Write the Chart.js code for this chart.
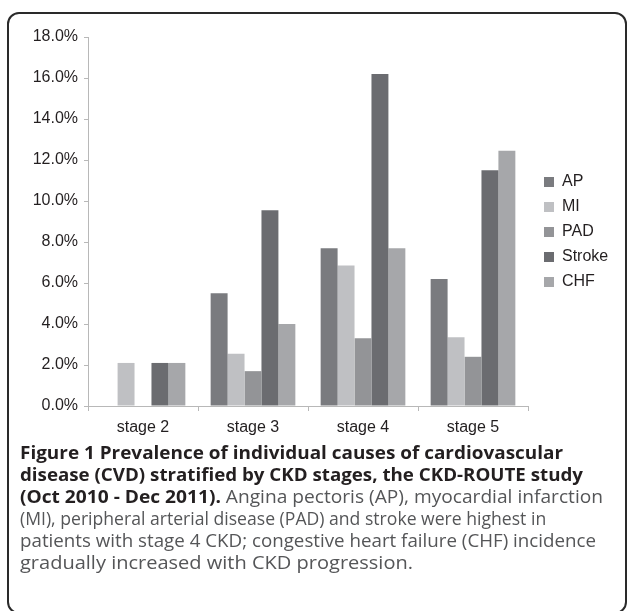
<!DOCTYPE html>
<html>
<head>
<meta charset="utf-8">
<script src="https://cdn.jsdelivr.net/npm/chart.js@4.4.1/dist/chart.umd.min.js"></script>
<style>
  html, body { margin: 0; padding: 0; background: #fff; }
  body { width: 627px; height: 611px; position: relative; overflow: hidden; }
  #frame {
    position: absolute; left: 7px; top: 12px; width: 620px; height: 602px;
    border: 2px solid #2a2a2a; border-radius: 12px; box-sizing: border-box;
  }
  #wrap { position: absolute; left: 0; top: 0; width: 627px; height: 445px; }
  #caption {
    position: absolute; left: 20px; top: 441px;
    font-family: "Open Sans", "Noto Sans", sans-serif;
    font-size: 18px; line-height: 22px; color: #555658;
  }
  #caption .ln { display: block; white-space: nowrap; width: max-content; transform-origin: 0 50%; }
  #caption b { color: #231f20; font-weight: 700; }
</style>
</head>
<body>
<div id="frame"></div>
<div id="wrap"><canvas id="chart" width="627" height="445"></canvas></div>
<div id="caption">
  <span class="ln"><b>Figure 1 Prevalence of individual causes of cardiovascular</b></span>
  <span class="ln"><b>disease (CVD) stratified by CKD stages, the CKD-ROUTE study</b></span>
  <span class="ln"><b>(Oct 2010 - Dec 2011).</b> Angina pectoris (AP), myocardial infarction</span>
  <span class="ln">(MI), peripheral arterial disease (PAD) and stroke were highest in</span>
  <span class="ln">patients with stage 4 CKD; congestive heart failure (CHF) incidence</span>
  <span class="ln">gradually increased with CKD progression.</span>
</div>
<script>
// data (percent)
const stages = ["stage 2", "stage 3", "stage 4", "stage 5"];
const apValues = [0, 5.5, 7.7, 6.2];
const miValues = [2.1, 2.55, 6.85, 3.35];
const padValues = [0, 1.7, 3.3, 2.4];
const strokeValues = [2.1, 9.55, 16.2, 11.5];
const chfValues = [2.1, 4.0, 7.7, 12.45];
const yMin = 0, yMax = 18, yStep = 2;

// the caption was set in a narrower face: bring each line near its width in the figure,
// but never squeeze one line much more than the others
const lineEnds = [563, 583, 603, 515, 596, 413];
const lines = Array.from(document.querySelectorAll("#caption .ln"));
const widths = lines.map((el) => el.getBoundingClientRect().width);
const s0 = (lineEnds[0] - 20) / widths[0];
lines.forEach((el, i) => {
  let s = (lineEnds[i] - 20) / widths[i];
  s = Math.min(Math.max(s, s0 * 0.93), s0 * 1.06);
  el.style.transform = "scaleX(" + s + ")";
});

const axisGray = "#b8b8b8";
const textColor = "#231f20";
const font = { family: "'Liberation Sans', Arial, sans-serif", size: 16 };

// put the legend where it sits in the figure
const legendPlace = {
  id: "legendPlace",
  afterLayout(chart) {
    const lg = chart.legend;
    const w = lg.width, h = lg.height;
    lg.left = 535; lg.right = lg.left + w;
    lg.top = 165; lg.bottom = lg.top + h;
  }
};

function ds(label, data, color) {
  return { label: label, data: data, backgroundColor: color, borderWidth: 0 };
}

new Chart(document.getElementById("chart").getContext("2d"), {
  type: "bar",
  data: {
    labels: stages,
    datasets: [
      ds("AP", apValues, "#7a7b7f"),
      ds("MI", miValues, "#bfc0c3"),
      ds("PAD", padValues, "#939497"),
      ds("Stroke", strokeValues, "#6b6c70"),
      ds("CHF", chfValues, "#a6a7aa"),
    ],
  },
  options: {
    responsive: false,
    animation: false,
    layout: { padding: { top: 37, right: 99, bottom: 0, left: 0 } },
    datasets: { bar: { categoryPercentage: 0.77, barPercentage: 1 } },
    scales: {
      x: {
        grid: { offset: true, drawOnChartArea: false, tickLength: 5, color: axisGray },
        border: { color: axisGray, width: 1 },
        ticks: { color: textColor, font: font, padding: 7, maxRotation: 0 },
        afterFit(scale) { scale.height = 39; },
      },
      y: {
        min: yMin,
        max: yMax,
        grid: { drawOnChartArea: false, tickLength: 4, color: axisGray },
        border: { color: axisGray, width: 1 },
        ticks: {
          stepSize: yStep,
          color: textColor,
          font: font,
          padding: 6,
          callback: (v) => v.toFixed(1) + "%",
        },
        afterFit(scale) { scale.width = 88; },
      },
    },
    plugins: {
      legend: {
        position: "chartArea",
        align: "start",
        labels: { boxWidth: 10, boxHeight: 10, padding: 9, color: textColor, font: font },
      },
      tooltip: { enabled: false },
    },
  },
  plugins: [legendPlace],
});
</script>
</body>
</html>
